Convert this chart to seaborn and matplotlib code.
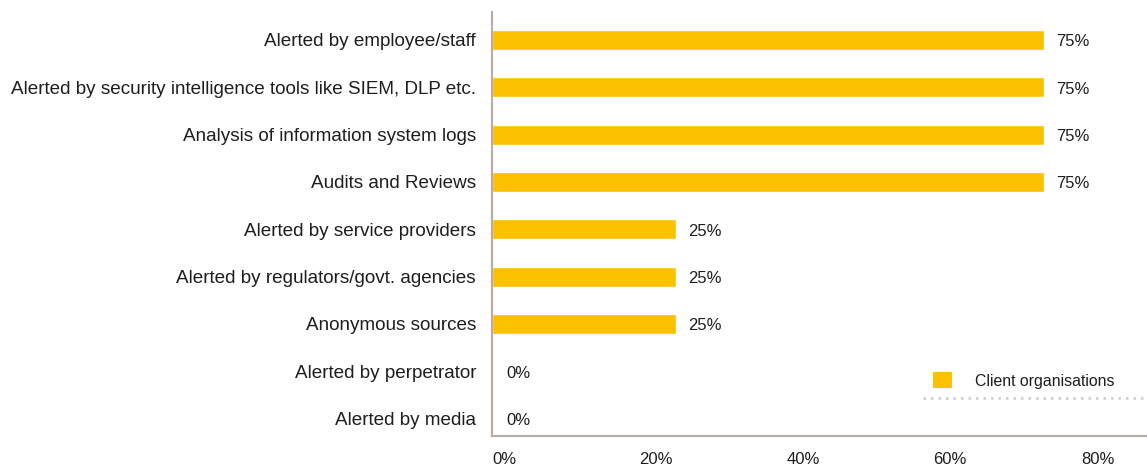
import matplotlib
matplotlib.use("Agg")
import matplotlib.pyplot as plt
from matplotlib.lines import Line2D
from matplotlib.patches import Patch
import seaborn as sns
import pandas as pd

sources = [
    "Alerted by employee/staff",
    "Alerted by security intelligence tools like SIEM, DLP etc.",
    "Analysis of information system logs",
    "Audits and Reviews",
    "Alerted by service providers",
    "Alerted by regulators/govt. agencies",
    "Anonymous sources",
    "Alerted by perpetrator",
    "Alerted by media",
]
client_pct = [75, 75, 75, 75, 25, 25, 25, 0, 0]
tick_values = [0, 20, 40, 60, 80]
tick_labels = ["0%", "20%", "40%", "60%", "80%"]
series_name = "Client organisations"

BAR = "#FDC000"
AXIS = "#B8AEA6"
TEXT = "#1E1E1E"

sns.set_theme(style="white")
plt.rcParams["font.family"] = ["Liberation Sans", "DejaVu Sans"]

df = pd.DataFrame({"source": sources, "pct": client_pct})

W, H = 1147, 466
fig = plt.figure(figsize=(W / 100, H / 100), dpi=100)
ax = fig.add_axes([492 / W, 1 - 436 / H, 1 - 492 / W, (436 - 12) / H])

sns.barplot(data=df, x="pct", y="source", color=BAR, saturation=1,
            width=0.42, ax=ax, orient="h")

ax.set_xlim(0, 89)
ax.set_ylim(len(sources) - 1 + 0.366, -0.59)

for sp in ["top", "right"]:
    ax.spines[sp].set_visible(False)
for sp in ["left", "bottom"]:
    ax.spines[sp].set_color(AXIS)
    ax.spines[sp].set_linewidth(1.6)

ax.set_xlabel("")
ax.set_ylabel("")
ax.set_xticks(tick_values)
ax.set_xticklabels(tick_labels, ha="left")
ax.tick_params(axis="x", length=0, pad=11.5, labelsize=12, labelcolor=TEXT)
ax.tick_params(axis="y", length=0, pad=11.5, labelsize=13.55, labelcolor=TEXT)

for i, v in enumerate(client_pct):
    ax.annotate(f"{v}%", xy=(v, i), xytext=(12 if v else 14, -2),
                textcoords="offset pixels", va="center", ha="left",
                fontsize=12, color=TEXT)

handle = Patch(facecolor=BAR, edgecolor="none")
leg = ax.legend([handle], [series_name], loc="upper left",
                bbox_to_anchor=((927 - 492) / (W - 492), (436 - 366) / (436 - 12)),
                frameon=False, fontsize=11.4, handlelength=1.15, handleheight=1.15,
                handletextpad=1.5, borderaxespad=0)
for t in leg.get_texts():
    t.set_color(TEXT)

fig.add_artist(Line2D([923 / W, 1.0], [1 - 398 / H, 1 - 398 / H],
                      transform=fig.transFigure, color="#CFCAC5",
                      linestyle=(0, (1, 2)), linewidth=1.8))

fig.savefig("out.png", dpi=100)
